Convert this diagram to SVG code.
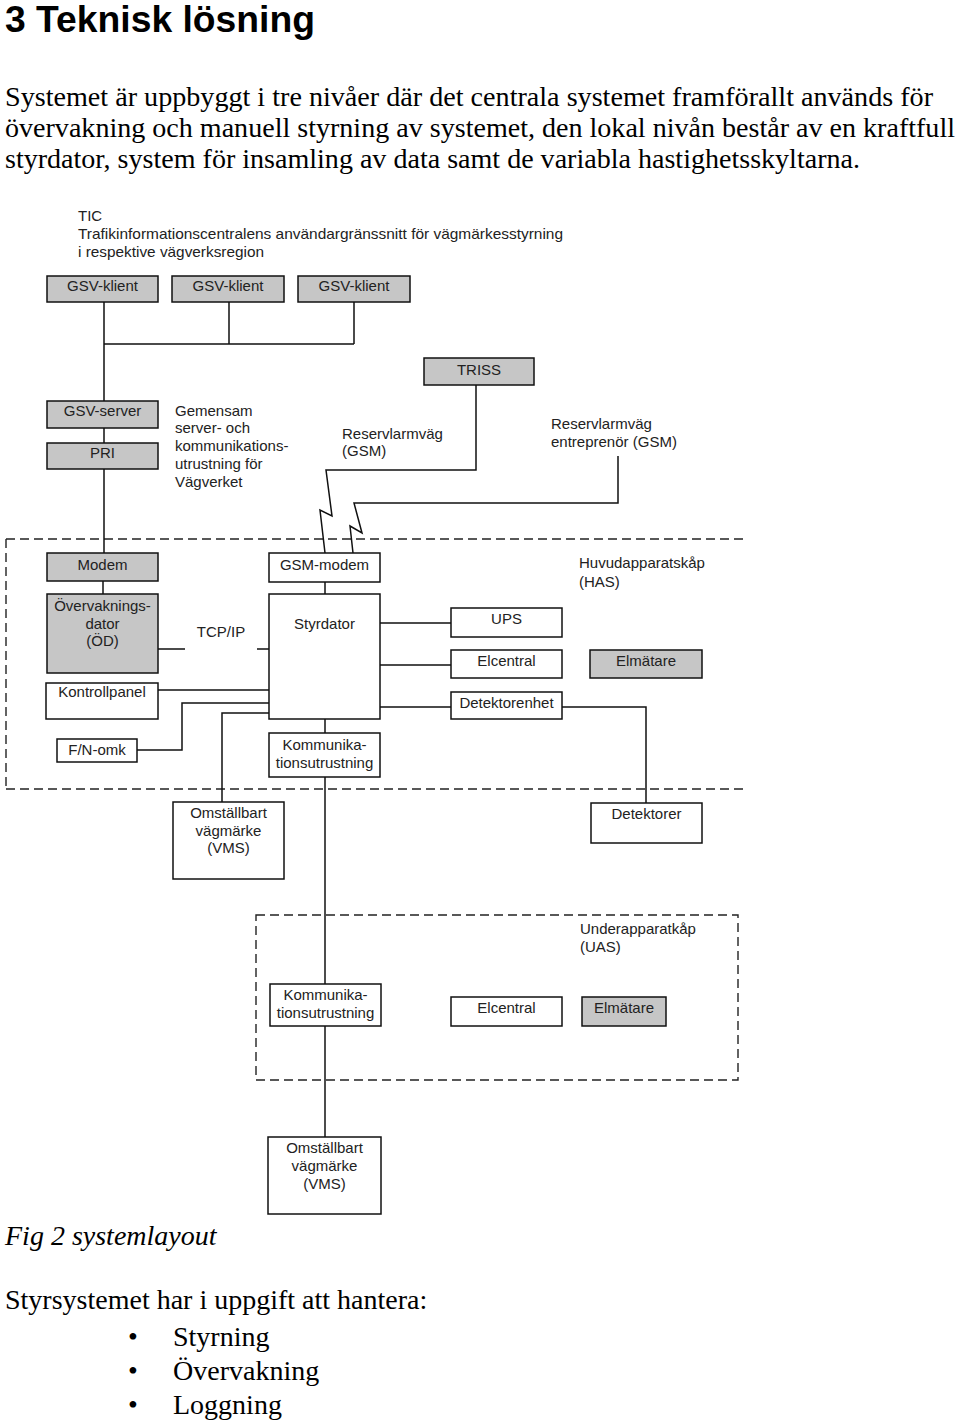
<svg xmlns="http://www.w3.org/2000/svg" width="960" height="1424" viewBox="0 0 960 1424">
<style>
.bg{fill:#fff}
.box{fill:#fff;stroke:#111;stroke-width:1.5}
.gray{fill:#c6c6c6;stroke:#111;stroke-width:1.5}
.t{font-family:"Liberation Sans",Arial,sans-serif;font-size:15px;fill:#222}
.c{text-anchor:middle}
.ln{fill:none;stroke:#111;stroke-width:1.5}
.dash{fill:none;stroke:#222;stroke-width:1.4;stroke-dasharray:9 5}
.h{font-family:"Liberation Sans",Arial,sans-serif;font-size:36px;font-weight:bold;fill:#000}
.p{font-family:"Liberation Serif","Times New Roman",serif;font-size:28px;fill:#000}
</style>
<rect class="bg" x="0" y="0" width="960" height="1424"/>
<text class="h" x="5" y="32" textLength="310" lengthAdjust="spacingAndGlyphs">3 Teknisk lösning</text>
<text class="p" x="5" y="106" textLength="928" lengthAdjust="spacingAndGlyphs">Systemet är uppbyggt i tre nivåer där det centrala systemet framförallt används för</text>
<text class="p" x="5" y="137" textLength="950" lengthAdjust="spacingAndGlyphs">övervakning och manuell styrning av systemet, den lokal nivån består av en kraftfull</text>
<text class="p" x="5" y="168" textLength="855" lengthAdjust="spacingAndGlyphs">styrdator, system för insamling av data samt de variabla hastighetsskyltarna.</text>

<g id="groups">
<path class="dash" d="M6,539 H743 M6,539 V789 M6,789 H743"/>
<rect class="dash" x="256" y="915" width="482" height="165"/>
</g>

<g id="connectors">
<path class="ln" d="M104,302 V344 M229,302 V344 M354,302 V344 M104,344 H354"/>
<path class="ln" d="M104,344 V401 M104,428 V443 M104,469 V553"/>
<path class="ln" d="M103,581 V594"/>
<path class="ln" d="M476,385 V470 H326 L332,516 L320,510 L325,553"/>
<path class="ln" d="M618,456 V503 H354 L362,533 L350,526 L353,553"/>
<path class="ln" d="M325,582 V594"/>
<path class="ln" d="M158,649 H185 M257,649 H269"/>
<path class="ln" d="M158,690 H269"/>
<path class="ln" d="M137,750 H182 V703 H269"/>
<path class="ln" d="M269,713 H222 V802"/>
<path class="ln" d="M325,719 V733"/>
<path class="ln" d="M380,623 H451 M380,665 H451 M380,707 H451"/>
<path class="ln" d="M562,707 H646 V803"/>
<path class="ln" d="M325,777 V984"/>
<path class="ln" d="M325,1026 V1137"/>
</g>

<g id="tic">
<text class="t" x="78" y="221">TIC</text>
<text class="t" x="78" y="239" textLength="485" lengthAdjust="spacingAndGlyphs">Trafikinformationscentralens användargränssnitt för vägmärkesstyrning</text>
<text class="t" x="78" y="257" textLength="186" lengthAdjust="spacingAndGlyphs">i respektive vägverksregion</text>
</g>
<g id="gsv-klient-1"><rect class="gray" x="47" y="276" width="111" height="26"/><text class="t c" x="102.5" y="291">GSV-klient</text></g>
<g id="gsv-klient-2"><rect class="gray" x="172" y="276" width="112" height="26"/><text class="t c" x="228" y="291">GSV-klient</text></g>
<g id="gsv-klient-3"><rect class="gray" x="298" y="276" width="112" height="26"/><text class="t c" x="354" y="291">GSV-klient</text></g>
<g id="triss"><rect class="gray" x="424" y="358" width="110" height="27"/><text class="t c" x="479" y="375">TRISS</text></g>
<g id="gsv-server"><rect class="gray" x="47" y="401" width="111" height="27"/><text class="t c" x="102.5" y="416">GSV-server</text></g>
<g id="pri"><rect class="gray" x="47" y="443" width="111" height="26"/><text class="t c" x="102.5" y="458">PRI</text></g>
<g id="gemensam">
<text class="t" x="175" y="416">Gemensam</text>
<text class="t" x="175" y="433">server- och</text>
<text class="t" x="175" y="451">kommunikations-</text>
<text class="t" x="175" y="469">utrustning för</text>
<text class="t" x="175" y="487">Vägverket</text>
</g>
<g id="reserv-gsm"><text class="t" x="342" y="439">Reservlarmväg</text><text class="t" x="342" y="456">(GSM)</text></g>
<g id="reserv-entr"><text class="t" x="551" y="429">Reservlarmväg</text><text class="t" x="551" y="447">entreprenör (GSM)</text></g>

<g id="modem"><rect class="gray" x="47" y="553" width="111" height="28"/><text class="t c" x="102.5" y="570">Modem</text></g>
<g id="od"><rect class="gray" x="47" y="594" width="111" height="79"/>
<text class="t c" x="102.5" y="611">Övervaknings-</text><text class="t c" x="102.5" y="629">dator</text><text class="t c" x="102.5" y="646">(ÖD)</text></g>
<g id="kontrollpanel"><rect class="box" x="46" y="683" width="112" height="36"/><text class="t c" x="102" y="697">Kontrollpanel</text></g>
<g id="fn-omk"><rect class="box" x="57" y="739" width="80" height="23"/><text class="t c" x="97" y="755">F/N-omk</text></g>
<g id="tcpip"><text class="t c" x="221" y="637">TCP/IP</text></g>
<g id="gsm-modem"><rect class="box" x="269" y="553" width="111" height="29"/><text class="t c" x="324.5" y="570">GSM-modem</text></g>
<g id="styrdator"><rect class="box" x="269" y="594" width="111" height="125"/><text class="t c" x="324.5" y="629">Styrdator</text></g>
<g id="komm-has"><rect class="box" x="269" y="733" width="111" height="44"/><text class="t c" x="324.5" y="750">Kommunika-</text><text class="t c" x="324.5" y="768">tionsutrustning</text></g>
<g id="has-label"><text class="t" x="579" y="568">Huvudapparatskåp</text><text class="t" x="579" y="587">(HAS)</text></g>
<g id="ups"><rect class="box" x="451" y="608" width="111" height="29"/><text class="t c" x="506.5" y="624">UPS</text></g>
<g id="elcentral-has"><rect class="box" x="451" y="650" width="111" height="28"/><text class="t c" x="506.5" y="666">Elcentral</text></g>
<g id="elmatare-has"><rect class="gray" x="590" y="650" width="112" height="28"/><text class="t c" x="646" y="666">Elmätare</text></g>
<g id="detektorenhet"><rect class="box" x="451" y="692" width="111" height="27"/><text class="t c" x="506.5" y="708">Detektorenhet</text></g>

<g id="vms-1"><rect class="box" x="173" y="802" width="111" height="77"/>
<text class="t c" x="228.5" y="818">Omställbart</text><text class="t c" x="228.5" y="836">vägmärke</text><text class="t c" x="228.5" y="853">(VMS)</text></g>
<g id="detektorer"><rect class="box" x="591" y="803" width="111" height="40"/><text class="t c" x="646.5" y="819">Detektorer</text></g>

<g id="uas-label"><text class="t" x="580" y="934">Underapparatkåp</text><text class="t" x="580" y="952">(UAS)</text></g>
<g id="komm-uas"><rect class="box" x="270" y="984" width="111" height="42"/><text class="t c" x="325.5" y="1000">Kommunika-</text><text class="t c" x="325.5" y="1018">tionsutrustning</text></g>
<g id="elcentral-uas"><rect class="box" x="451" y="997" width="111" height="29"/><text class="t c" x="506.5" y="1013">Elcentral</text></g>
<g id="elmatare-uas"><rect class="gray" x="582" y="997" width="84" height="29"/><text class="t c" x="624" y="1013">Elmätare</text></g>
<g id="vms-2"><rect class="box" x="268" y="1137" width="113" height="77"/>
<text class="t c" x="324.5" y="1153">Omställbart</text><text class="t c" x="324.5" y="1171">vägmärke</text><text class="t c" x="324.5" y="1189">(VMS)</text></g>

<text class="p" x="5" y="1245" font-style="italic">Fig 2 systemlayout</text>
<text class="p" x="5" y="1309">Styrsystemet har i uppgift att hantera:</text>
<text class="p" x="128" y="1346">•</text><text class="p" x="173" y="1346">Styrning</text>
<text class="p" x="128" y="1380">•</text><text class="p" x="173" y="1380">Övervakning</text>
<text class="p" x="128" y="1414">•</text><text class="p" x="173" y="1414">Loggning</text>
</svg>
